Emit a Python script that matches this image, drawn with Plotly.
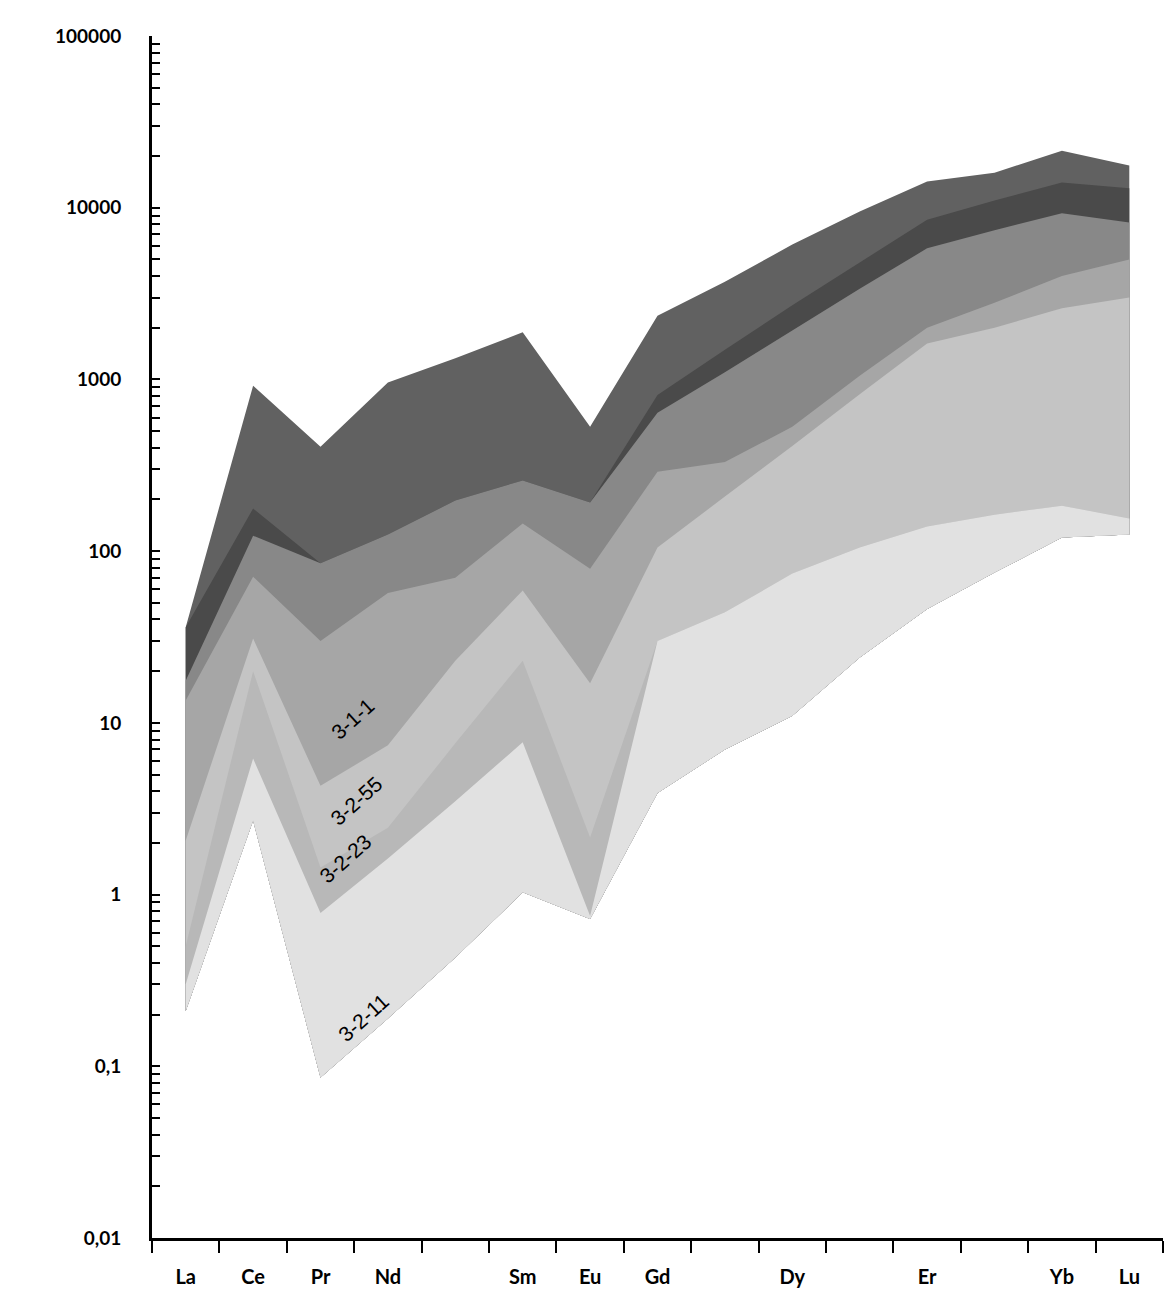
import plotly.graph_objects as go
import math

# ---- data ----
elements = ["La", "Ce", "Pr", "Nd", "Pm", "Sm", "Eu", "Gd", "Tb", "Dy", "Ho", "Er", "Tm", "Yb", "Lu"]
element_labels = ["La", "Ce", "Pr", "Nd", "", "Sm", "Eu", "Gd", "", "Dy", "", "Er", "", "Yb", "Lu"]

# boundary curves of the shaded fields (chondrite-normalised values)
upper_envelope = [36, 920, 405, 960, 1330, 1880, 530, 2350, 3700, 6100, 9500, 14200, 16000, 21500, 17600]
overlap_top    = [36, 177, 85, 125, 197, 258, 192, 812, 1490, 2700, 4800, 8500, 11000, 14000, 13000]
medium_top     = [17.6, 123, 85, 125, 197, 258, 192, 640, 1100, 1930, 3370, 5800, 7400, 9300, 8200]
field_311_top  = [13.5, 71, 30, 57, 70, 145, 79, 290, 330, 530, 1050, 2000, 2800, 4000, 5000]
field_311_low  = [2.06, 31, 4.3, 7.4, 23, 59, 17, 105, 208, 410, 820, 1620, 2000, 2600, 3000]
field_3255_low = [0.5, 20, 1.44, 2.45, 7.6, 23, 2.15, 30, 44, 74, 105, 139, 163, 184, 155]
field_3223_low = [0.3, 6.2, 0.78, 1.62, 3.5, 7.7, 0.75, 30, 44, 74, 105, 139, 163, 184, 155]
field_3211_low = [0.21, 2.7, 0.086, 0.19, 0.43, 1.03, 0.72, 3.9, 7, 11, 24, 46, 75, 120, 125]

layer_tops = [upper_envelope, overlap_top, medium_top, field_311_top,
              field_311_low, field_3255_low, field_3223_low]
layer_colors = ["#616161", "#4a4a4a", "#888888", "#a6a6a6", "#c4c4c4", "#b8b8b8", "#e1e1e1"]

sample_names = ["3-1-1", "3-2-55", "3-2-23", "3-2-11"]
sample_label_x = [2.48, 2.54, 2.37, 2.64]
sample_label_y = [10.6, 3.52, 1.62, 0.192]

y_tick_labels = {-2: "0,01", -1: "0,1", 0: "1", 1: "10", 2: "100", 3: "1000", 4: "10000", 5: "100000"}

# ---- figure ----
xi = list(range(len(elements)))
fig = go.Figure()
for top, col in zip(layer_tops, layer_colors):
    fig.add_trace(go.Scatter(
        x=xi + xi[::-1],
        y=list(top) + list(field_3211_low)[::-1],
        fill="toself", fillcolor=col, mode="lines",
        line=dict(width=0, color=col), hoverinfo="skip", showlegend=False))

# invisible trace carrying the element label axis
fig.add_trace(go.Scatter(x=xi, y=[1] * len(xi), xaxis="x2", mode="markers",
                         marker=dict(opacity=0), hoverinfo="skip", showlegend=False))

for name, lx, ly in zip(sample_names, sample_label_x, sample_label_y):
    fig.add_annotation(x=lx, y=math.log10(ly), xref="x", yref="y", text=name,
                       showarrow=False, textangle=-42,
                       font=dict(family="Liberation Sans", size=21, color="black"))

tickvals, ticktext = [], []
for d in range(-2, 5):
    for k in range(1, 10):
        tickvals.append(k * 10 ** d)
        ticktext.append(y_tick_labels[d] if k == 1 else "")
tickvals.append(10 ** 5)
ticktext.append(y_tick_labels[5])

bounds = [i - 0.5 for i in range(len(elements) + 1)]

fig.update_layout(
    width=1166, height=1290,
    margin=dict(l=152, r=3, t=36, b=52),
    plot_bgcolor="white", paper_bgcolor="white",
    font=dict(family="Lato, Open Sans, sans-serif", color="black"),
    xaxis=dict(range=[-0.5, len(elements) - 0.5], tickvals=bounds, ticktext=[""] * len(bounds),
               ticks="outside", ticklen=12, tickwidth=2, tickcolor="black", automargin=False,
               showline=True, linewidth=3, linecolor="black", showgrid=False, zeroline=False),
    xaxis2=dict(range=[-0.5, len(elements) - 0.5], overlaying="x", anchor="y", side="bottom",
                tickvals=xi, ticktext=element_labels, ticks="outside", ticklen=21,
                tickcolor="rgba(0,0,0,0)", showline=False, showgrid=False, zeroline=False,
                automargin=False,
                tickfont=dict(family="Lato, Open Sans, sans-serif", size=20, color="black",
                              weight="bold")),
    yaxis=dict(type="log", range=[-2, 5], tickvals=tickvals, ticktext=ticktext,
               ticks="inside", ticklen=8, tickwidth=2, tickcolor="black", automargin=False,
               showline=True, linewidth=3, linecolor="black", showgrid=False, zeroline=False,
               ticklabelstandoff=24,
               tickfont=dict(family="Lato, Open Sans, sans-serif", size=19, color="black",
                             weight="bold")),
)

fig.write_html("out.html", config={"displayModeBar": False},
               post_script="document.body.style.margin='0';document.body.style.overflow='hidden';")
